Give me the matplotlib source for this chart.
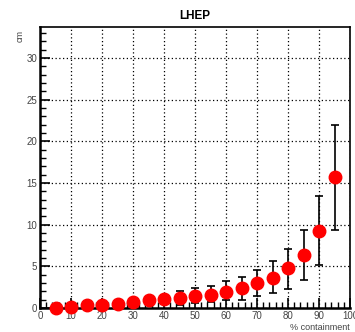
import matplotlib
matplotlib.use('Agg')
import matplotlib.pyplot as plt
from matplotlib.ticker import MultipleLocator

# Data
containment = [5, 10, 15, 20, 25, 30, 35, 40, 45, 50,
               55, 60, 65, 70, 75, 80, 85, 90, 95]
radius = [0.0, 0.15, 0.35, 0.35, 0.5, 0.7, 0.9, 1.1, 1.2, 1.4,
          1.6, 1.9, 2.4, 3.0, 3.6, 4.8, 6.4, 9.2, 15.7]
err_low = [0.0, 0.05, 0.1, 0.1, 0.15, 0.2, 0.3, 0.4, 0.8, 0.85,
           0.85, 1.0, 1.4, 1.6, 1.8, 2.5, 3.0, 4.0, 6.4]
err_high = [0.0, 0.05, 0.1, 0.1, 0.15, 0.2, 0.3, 0.4, 0.8, 1.0,
            1.0, 1.3, 1.3, 1.5, 2.0, 2.3, 2.9, 4.2, 6.3]

plt.rcParams['font.family'] = ['Liberation Sans', 'DejaVu Sans']

fig = plt.figure(figsize=(3.55, 3.32), dpi=100)
ax = fig.add_axes([0.1127, 0.0723, 0.8733, 0.8464])

ax.errorbar(containment, radius, yerr=[err_low, err_high], fmt='none',
            ecolor='black', elinewidth=1.2, capsize=3, capthick=1.2,
            zorder=3)
ax.plot(containment, radius, linestyle='none', marker='o', markersize=9,
        color='red', markeredgecolor='red', zorder=4, clip_on=False)

ax.set_xlim(0, 100)
ax.set_ylim(0, 33.7)

ax.xaxis.set_major_locator(MultipleLocator(10))
ax.xaxis.set_minor_locator(MultipleLocator(2))
ax.yaxis.set_major_locator(MultipleLocator(5))
ax.yaxis.set_minor_locator(MultipleLocator(1))

ax.tick_params(which='both', direction='in', top=False, right=False,
               labelsize=7, labelcolor='#444444', pad=2)
ax.tick_params(which='major', length=7, width=1.2)
ax.tick_params(which='minor', length=4, width=1)

# Dotted grid
ax.grid(which='major', linestyle=(0, (1, 2)), linewidth=0.9, color='black')
ax.set_axisbelow(True)

for side in ['left', 'bottom']:
    ax.spines[side].set_linewidth(1.8)
for side in ['right', 'top']:
    ax.spines[side].set_linewidth(1.2)

# Labels and title
ax.set_title('LHEP', fontsize=8.5, fontweight='bold', pad=6)
ax.set_xlabel('% containment', fontsize=6.5, color='#444444', labelpad=0)
ax.xaxis.set_label_coords(1.0, -0.055)
ax.xaxis.label.set_horizontalalignment('right')
ax.set_ylabel('cm', fontsize=6.5, color='#444444', labelpad=0)
ax.yaxis.set_label_coords(-0.065, 0.99)
ax.yaxis.label.set_verticalalignment('center')
ax.yaxis.label.set_horizontalalignment('right')

fig.savefig('out.png', dpi=100)
